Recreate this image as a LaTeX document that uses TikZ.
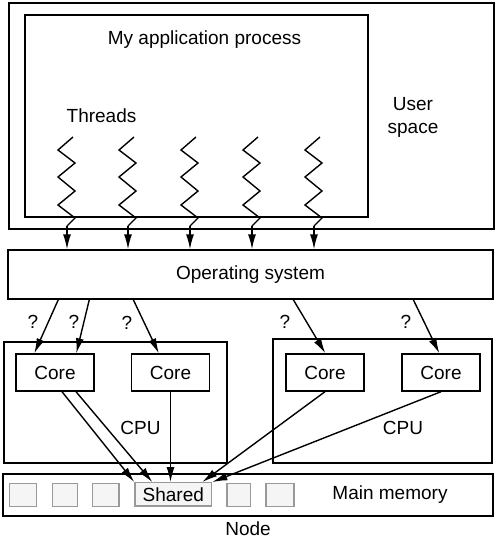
\documentclass[tikz,border=0pt]{standalone}
\usepackage{fontspec}
\setmainfont{Liberation Sans}
\usetikzlibrary{arrows.meta}
\begin{document}
\begin{tikzpicture}[x=1pt,y=-1pt,line width=1.4pt,
  kasten/.style={draw,inner sep=0pt},
  zelle/.style={draw=black!40,fill=black!4,inner sep=0pt},
  pfeil/.style={-{Latex[length=15pt,width=8pt]}},
  every node/.append style={font=\fontsize{19}{23}\selectfont,inner sep=1pt}]
  \useasboundingbox (0,0) rectangle (497,539);
  % Benutzerbereich
  \node[kasten,minimum width=485pt,minimum height=226pt] (user) at (251.5,116) {};
  \node[kasten,minimum width=343pt,minimum height=202pt] (app) at (196.5,116) {};
  \node (apptext) at (204.5,40) {My application process};
  \node (threads) at (101.5,116) {Threads};
  \node[align=center] (usertext) at (413,117) {User\\space};
  % Betriebssystem
  \node[kasten,minimum width=485pt,minimum height=49pt] (os) at (250.5,274.5) {Operating system};
  % Die Threads
  \foreach \i/\c in {1/67,2/128,3/190,4/252,5/314}
  {
   \draw (\c+6,137) -- (\c-9,150) -- (\c+8,163) -- (\c-9,177) -- (\c+8,191)
     -- (\c-9,205) -- (\c+8,218) -- (\c,226) coordinate (t\i);
   \draw[pfeil] (t\i) -- (t\i |- os.north);
  }
  % CPUs und Kerne
  \node[kasten,minimum width=223pt,minimum height=121pt] (cpuL) at (115.5,402.5) {};
  \node[kasten,minimum width=219pt,minimum height=124pt] (cpuR) at (382.5,401) {};
  \node (cpuLtext) at (140.5,428) {CPU};
  \node (cpuRtext) at (403,428) {CPU};
  \foreach \n/\x in {1/55,2/170.5,3/325,4/441}
   \node[kasten,minimum width=78pt,minimum height=37pt] (core\n) at (\x,372.5) {Core};
  % Fragezeichen
  \foreach \n/\x/\y in {1/33/322,2/74/322,3/127/323,4/285/322,5/406/322}
   \node (q\n) at (\x,\y) {?};
  \draw[pfeil] ([xshift=51pt]os.south west) -- ([xshift=19pt]core1.north west);
  \draw[pfeil] ([xshift=82pt]os.south west) -- ([xshift=61pt]core1.north west);
  \draw[pfeil] ([xshift=126pt]os.south west) -- ([xshift=28pt]core2.north west);
  \draw[pfeil] ([xshift=286pt]os.south west) -- ([xshift=40pt]core3.north west);
  \draw[pfeil] ([xshift=406pt]os.south west) -- ([xshift=38pt]core4.north west);
  % Hauptspeicher
  \node[kasten,minimum width=490pt,minimum height=42pt] (mem) at (248,495) {};
  \foreach \n/\x/\w in {1/23/27.5,2/64.8/25,3/105.8/26.3,5/238.8/23.7,6/280/28}
   \node[zelle,minimum width=\w pt,minimum height=23pt] (zelle\n) at (\x,495) {};
  \node[zelle,minimum width=76.7pt,minimum height=23.3pt] (shared) at (173.3,494.4) {Shared};
  \node (memtext) at (390,495) {Main memory};
  \node (nodetext) at (248,529) {Node};
  \draw[pfeil] ([xshift=7pt]core1.south) -- (shared.north west);
  \draw[pfeil] ([xshift=21pt]core1.south) -- ([xshift=18pt]shared.north west);
  \draw[pfeil] (core2.south) -- (core2.south |- shared.north);
  \draw[pfeil] (core3.south) -- ([xshift=-10pt]shared.north east);
  \draw[pfeil] (core4.south) -- (shared.north east);
 \end{tikzpicture}
\end{document}
